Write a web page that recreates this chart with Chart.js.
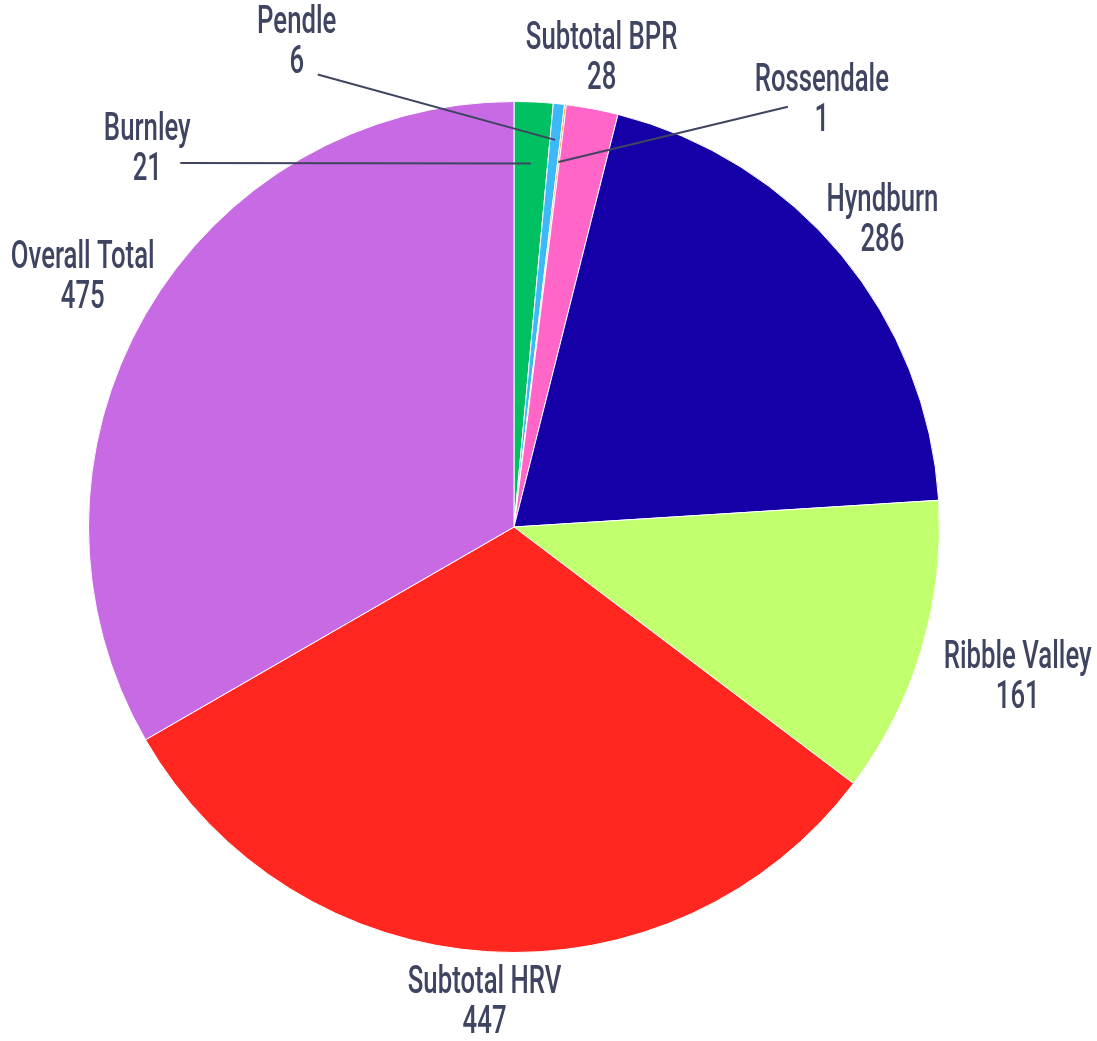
<!DOCTYPE html>
<html>
<head>
<meta charset="utf-8">
<script src="https://cdn.jsdelivr.net/npm/chart.js@4/dist/chart.umd.min.js"></script>
<style>
  html, body { margin: 0; padding: 0; background: #fff; }
  canvas { display: block; }
</style>
</head>
<body>
<canvas id="myChart" width="1097" height="1041"></canvas>
<script>
const categories = ['Burnley', 'Pendle', 'Rossendale', 'Subtotal BPR', 'Hyndburn', 'Ribble Valley', 'Subtotal HRV', 'Overall Total'];
const values = [21, 6, 1, 28, 286, 161, 447, 475];
const colors = ['#00c062', '#3db8f8', '#ff8c1a', '#ff66c8', '#1500a8', '#c2ff6e', '#ff271f', '#c86ae4'];

// label placement: distance from pie centre, optional fixed angle (deg from top) and leader line
const labelStyle = [
  { dist: 526, angle: -44.2, lineR: 0.855, lineEnd: [33, 13] },
  { dist: 530, angle: -24.2, lineR: 0.915, lineEnd: [21, 31] },
  { dist: 525, angle: 35.9, lineR: 0.864, lineEnd: [-34, 5] },
  { dist: 476 },
  { dist: 479 },
  { dist: 526 },
  { dist: 477 },
  { dist: 498 }
];

const textColor = '#3f4461';

const outLabels = {
  id: 'outLabels',
  afterDatasetsDraw(chart) {
    const ctx = chart.ctx;
    const arcs = chart.getDatasetMeta(0).data;
    ctx.save();
    ctx.font = '500 39px Roboto, "Liberation Sans Narrow", sans-serif';
    const sx = 112 / ctx.measureText('Hyndburn').width;
    arcs.forEach(function (arc, i) {
      const p = arc.getProps(['x', 'y', 'startAngle', 'endAngle', 'outerRadius'], true);
      const mid = (p.startAngle + p.endAngle) / 2;
      const st = labelStyle[i];
      const a = st.angle !== undefined ? (st.angle - 90) * Math.PI / 180 : mid;
      const cx = p.x + Math.cos(a) * st.dist;
      const cy = p.y + Math.sin(a) * st.dist;

      if (st.lineR) {
        ctx.beginPath();
        ctx.strokeStyle = textColor;
        ctx.lineWidth = 2;
        ctx.moveTo(p.x + Math.cos(mid) * p.outerRadius * st.lineR, p.y + Math.sin(mid) * p.outerRadius * st.lineR);
        ctx.lineTo(cx + st.lineEnd[0], cy + st.lineEnd[1]);
        ctx.stroke();
      }

      ctx.fillStyle = textColor;
      ctx.textAlign = 'center';
      ctx.textBaseline = 'middle';
      [categories[i], String(values[i])].forEach(function (t, k) {
        ctx.save();
        ctx.translate(cx, cy - 20 + k * 40);
        ctx.scale(sx, 1);
        ctx.fillText(t, 0, 0);
        ctx.restore();
      });
    });
    ctx.restore();
  }
};

new Chart(document.getElementById('myChart'), {
  type: 'pie',
  data: {
    labels: categories,
    datasets: [{
      data: values,
      backgroundColor: colors,
      borderColor: '#ffffff',
      borderWidth: 1
    }]
  },
  options: {
    responsive: false,
    animation: false,
    layout: {
      padding: { left: 88, right: 157, top: 101, bottom: 88 }
    },
    plugins: {
      legend: { display: false },
      tooltip: { enabled: false }
    }
  },
  plugins: [outLabels]
});
</script>
</body>
</html>
